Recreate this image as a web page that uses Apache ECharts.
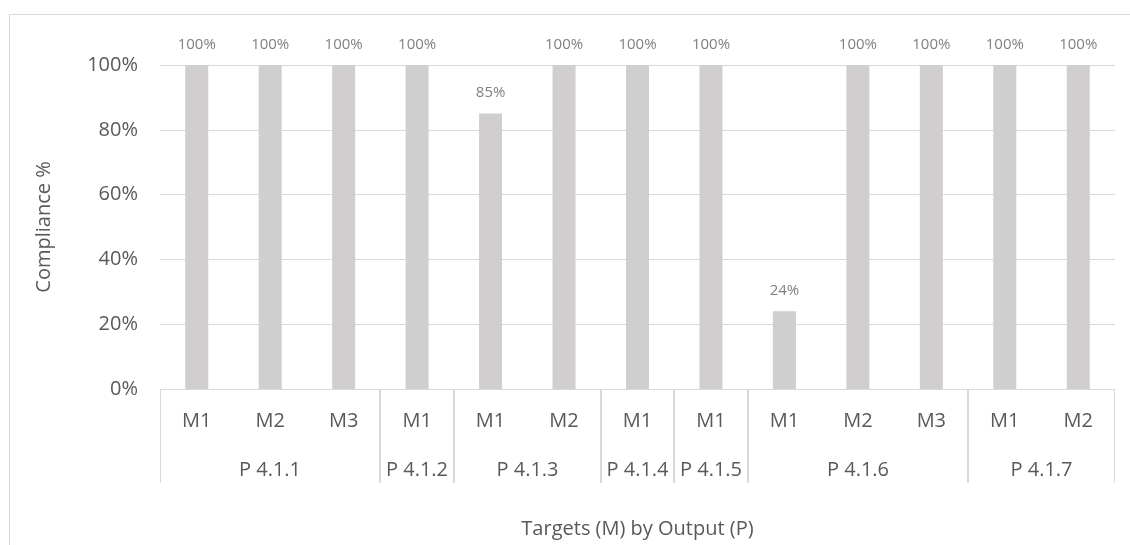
<!DOCTYPE html>
<html>
<head>
<meta charset="utf-8">
<script src="https://cdn.jsdelivr.net/npm/echarts@6/dist/echarts.min.js"></script>
<style>
  html, body { margin: 0; padding: 0; background: #fff; }
  #frame { position: absolute; left: 9px; top: 14px; width: 1140px; height: 560px;
           border-left: 1px solid #d9d9d9; border-top: 1px solid #d9d9d9; }
  #chart { position: absolute; left: 0; top: 0; width: 1130px; height: 545px; }
</style>
</head>
<body>
<div id="frame"></div>
<div id="chart"></div>
<script>
// Targets (first-level labels) in order along the axis
const targetLabels = ['M1', 'M2', 'M3', 'M1', 'M1', 'M2', 'M1', 'M1', 'M1', 'M2', 'M3', 'M1', 'M2'];
// Outputs (second-level labels) and how many targets each one spans
const outputNames = ['P 4.1.1', 'P 4.1.2', 'P 4.1.3', 'P 4.1.4', 'P 4.1.5', 'P 4.1.6', 'P 4.1.7'];
const outputSizes = [3, 1, 2, 1, 1, 3, 2];
// Compliance per target, in percent
const compliance = [100, 100, 100, 100, 85, 100, 100, 100, 24, 100, 100, 100, 100];

const FONT = '"Open Sans", "Noto Sans", sans-serif';
const TEXT = '#595959';
const LINE = '#d9d9d9';

// Start / end index of every output group on the category axis
const groupSpans = [];
let cursor = 0;
outputSizes.forEach(function (n) {
  groupSpans.push([cursor, cursor + n - 1, 0]);
  cursor += n;
});

const chart = echarts.init(document.getElementById('chart'), null, { renderer: 'canvas' });

chart.setOption({
  animation: false,
  textStyle: { fontFamily: FONT },
  grid: { left: 160, right: 15, top: 65, bottom: 156, containLabel: false },
  xAxis: {
    type: 'category',
    data: targetLabels,
    name: 'Targets (M) by Output (P)',
    nameLocation: 'middle',
    nameGap: 130,
    nameTextStyle: { color: TEXT, fontSize: 20, fontFamily: FONT },
    axisLine: { show: true, lineStyle: { color: LINE, width: 1 } },
    axisTick: { show: false },
    axisLabel: { color: TEXT, fontSize: 20, fontFamily: FONT, margin: 22, interval: 0 }
  },
  yAxis: {
    type: 'value',
    min: 0,
    max: 100,
    interval: 20,
    name: 'Compliance %',
    nameLocation: 'middle',
    nameGap: 106,
    nameTextStyle: { color: TEXT, fontSize: 20, fontFamily: FONT },
    axisLine: { show: false },
    axisTick: { show: false },
    axisLabel: { color: TEXT, fontSize: 20, fontFamily: FONT, margin: 22, formatter: '{value}%' },
    splitLine: { lineStyle: { color: LINE, width: 1 } }
  },
  series: [
    {
      type: 'bar',
      data: compliance,
      barWidth: 23,
      itemStyle: { color: '#d0cece' },
      label: {
        show: true,
        position: 'top',
        distance: 13,
        formatter: '{c}%',
        color: '#808080',
        fontSize: 15,
        fontFamily: FONT
      }
    },
    {
      // Output group labels and their boundary lines under the axis
      type: 'custom',
      data: groupSpans,
      encode: { x: [0, 1], y: 2 },
      clip: false,
      silent: true,
      z: 5,
      renderItem: function (params, api) {
        const band = api.size([1, 0])[0];
        const a = api.coord([api.value(0), 0]);
        const b = api.coord([api.value(1), 0]);
        const left = Math.round(a[0] - band / 2) + 0.5;
        const right = Math.round(b[0] + band / 2) - 0.5;
        const y = a[1];
        return {
          type: 'group',
          children: [
            { type: 'line', shape: { x1: left, y1: y, x2: left, y2: y + 94 },
              style: { stroke: LINE, lineWidth: 1 } },
            { type: 'line', shape: { x1: right, y1: y, x2: right, y2: y + 94 },
              style: { stroke: LINE, lineWidth: 1 } },
            { type: 'text', x: (left + right) / 2, y: y + 81,
              style: { text: outputNames[params.dataIndex], align: 'center', verticalAlign: 'middle',
                       fill: TEXT, font: '20px ' + FONT } }
          ]
        };
      }
    }
  ]
});
</script>
</body>
</html>
